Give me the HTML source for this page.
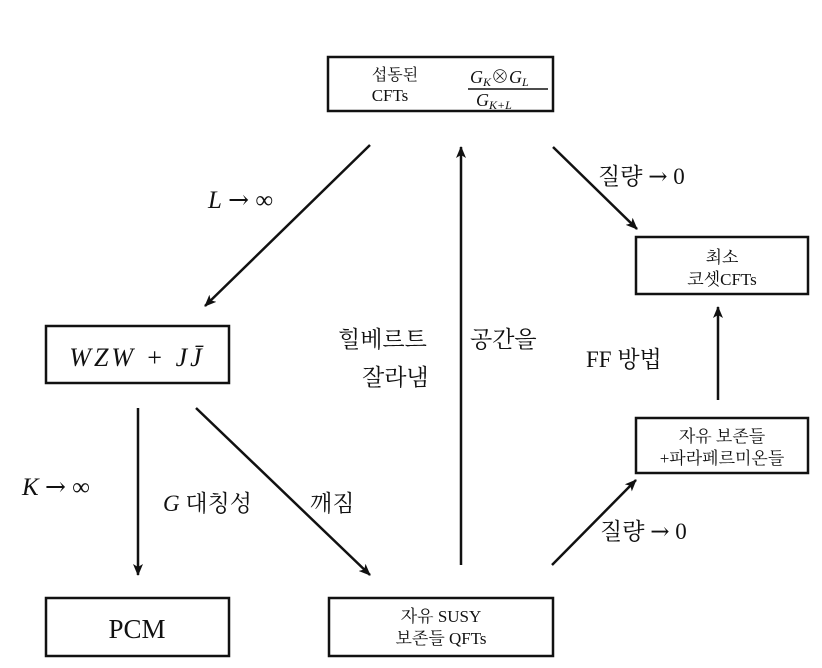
<!DOCTYPE html>
<html><head><meta charset="utf-8"><style>
html,body{margin:0;padding:0;background:#fff;}
svg{display:block;}
text{font-family:"Liberation Serif","Noto Serif CJK SC","Noto Sans CJK KR",serif;fill:#111;}
.ar{font-family:"DejaVu Serif","Liberation Serif",serif;}
</style></head><body>
<svg width="822" height="668" viewBox="0 0 822 668" xmlns="http://www.w3.org/2000/svg">
<defs><marker id="a" markerWidth="12" markerHeight="10" refX="11" refY="5" orient="auto" markerUnits="userSpaceOnUse"><path d="M0,0 L12,5 L0,10 L3,5 Z" fill="#111"/></marker></defs>
<g fill="none" stroke="#111" stroke-width="2.5">
<rect x="328" y="57" width="225" height="54"/>
<rect x="636" y="237" width="172" height="57"/>
<rect x="46" y="326" width="183" height="57"/>
<rect x="636" y="418" width="172" height="55"/>
<rect x="46" y="598" width="183" height="58"/>
<rect x="329" y="598" width="224" height="58"/>
</g>
<g stroke="#111" stroke-width="2.5" marker-end="url(#a)">
<line x1="370" y1="145" x2="205" y2="306"/>
<line x1="461" y1="565" x2="461" y2="147"/>
<line x1="553" y1="147" x2="637" y2="229"/>
<line x1="718" y1="400" x2="718" y2="307"/>
<line x1="552" y1="565" x2="636" y2="480"/>
<line x1="138" y1="408" x2="138" y2="575"/>
<line x1="196" y1="408" x2="370" y2="575"/>
</g>
<text x="395" y="80" font-size="16" text-anchor="middle">섭동된</text>
<text x="390" y="101" font-size="17" text-anchor="middle">CFTs</text>
<text x="470" y="83" font-size="18" font-style="italic">G<tspan font-size="12" dy="3">K</tspan><tspan dy="-3" font-style="normal">⊗</tspan>G<tspan font-size="12" dy="3">L</tspan></text>
<line x1="468" y1="89" x2="548" y2="89" stroke="#111" stroke-width="1.5"/>
<text x="476" y="106" font-size="18" font-style="italic">G<tspan font-size="12" dy="3">K+L</tspan></text>
<text x="722" y="263" font-size="17" text-anchor="middle">최소</text>
<text x="722" y="285" font-size="17" text-anchor="middle">코셋CFTs</text>
<text x="137" y="366" font-size="26" font-style="italic" text-anchor="middle" letter-spacing="3">WZW + JJ̄</text>
<text x="722" y="442" font-size="17" text-anchor="middle">자유  보존들</text>
<text x="722" y="464" font-size="17" text-anchor="middle">+파라페르미온들</text>
<text x="137" y="638" font-size="27" text-anchor="middle">PCM</text>
<text x="441" y="622" font-size="17" text-anchor="middle">자유 SUSY</text>
<text x="441" y="644" font-size="17" text-anchor="middle">보존들 QFTs</text>
<text x="208" y="208" font-size="25"><tspan font-style="italic">L</tspan> <tspan class="ar">→</tspan> ∞</text>
<text x="598" y="184" font-size="23">질량 <tspan class="ar">→</tspan> 0</text>
<text x="338" y="347" font-size="23">힐베르트</text>
<text x="470" y="347" font-size="23">공간을</text>
<text x="362" y="385" font-size="23">잘라냄</text>
<text x="586" y="367" font-size="23">FF 방법</text>
<text x="22" y="495" font-size="25"><tspan font-style="italic">K</tspan> <tspan class="ar">→</tspan> ∞</text>
<text x="163" y="511" font-size="23"><tspan font-style="italic">G</tspan> 대칭성</text>
<text x="310" y="511" font-size="23">깨짐</text>
<text x="600" y="539" font-size="23">질량 <tspan class="ar">→</tspan> 0</text>
</svg>
</body></html>
